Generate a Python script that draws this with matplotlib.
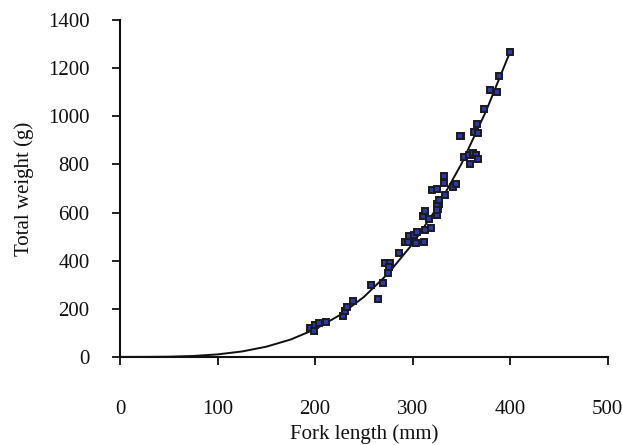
import numpy as np
import matplotlib
matplotlib.use('Agg')
import matplotlib.pyplot as plt

# fork length (mm) / total weight (g)
fork_length = [195, 199, 200, 204, 211, 229, 231, 233, 239, 257, 265, 270,
               275, 272, 277, 276, 286, 292, 295, 296, 301, 301, 303, 304,
               312, 313, 319, 317, 311, 313, 325, 326, 327, 325, 325, 327,
               320, 325, 333, 332, 332, 341, 344, 350, 353, 358, 362, 365,
               367, 359, 363, 367, 366, 349, 373, 379, 386, 389, 400]
total_weight = [119, 109, 133, 140, 147, 170, 191, 206, 234, 299, 241, 306,
                350, 392, 392, 375, 431, 476, 476, 503, 507, 476, 472, 520,
                476, 528, 535, 572, 586, 608, 590, 614, 636, 611, 636, 652,
                694, 697, 673, 722, 753, 708, 717, 918, 832, 839, 846, 839,
                821, 802, 936, 929, 968, 918, 1030, 1109, 1102, 1167, 1268]

# fitted length-weight curve
curve_length = [0, 25, 50, 75, 100, 125, 150, 175, 200, 225, 250, 275, 300,
                325, 350, 375, 400]
curve_weight = [0, 0.1, 0.9, 3.8, 10.4, 22.5, 42.4, 72.3, 115, 173, 249, 347,
                470, 620, 802, 1019, 1268]

plt.rcParams['font.family'] = ['Liberation Serif', 'DejaVu Serif']

fig = plt.figure(figsize=(6.22, 4.45), dpi=100)
ax = fig.add_axes([0.193, 0.198, 0.784, 0.757])

ax.plot(curve_length, curve_weight, '-', color='#111111', linewidth=1.4, zorder=2)
ax.plot(fork_length, total_weight, 's', markersize=5,
        markerfacecolor='#2b3aa0', markeredgecolor='#1a1a24',
        markeredgewidth=1.4, linestyle='none', zorder=3)

ax.set_xlim(0, 500)
ax.set_ylim(0, 1400)
ax.set_xticks(np.arange(0, 501, 100))
ax.set_yticks(np.arange(0, 1401, 200))

for side in ['top', 'right']:
    ax.spines[side].set_visible(False)
for side in ['left', 'bottom']:
    ax.spines[side].set_linewidth(1.5)
    ax.spines[side].set_color('#111111')

ax.tick_params(axis='both', direction='out', length=6, width=1.3,
               color='#111111', labelsize=15, labelcolor='#111111')
ax.tick_params(axis='x', pad=25)
ax.tick_params(axis='y', pad=16)

ax.set_xlabel('Fork length (mm)', fontsize=15, color='#111111', labelpad=4)
ax.set_ylabel('Total weight (g)', fontsize=15, color='#111111', labelpad=10)

fig.savefig('out.png', dpi=100)
